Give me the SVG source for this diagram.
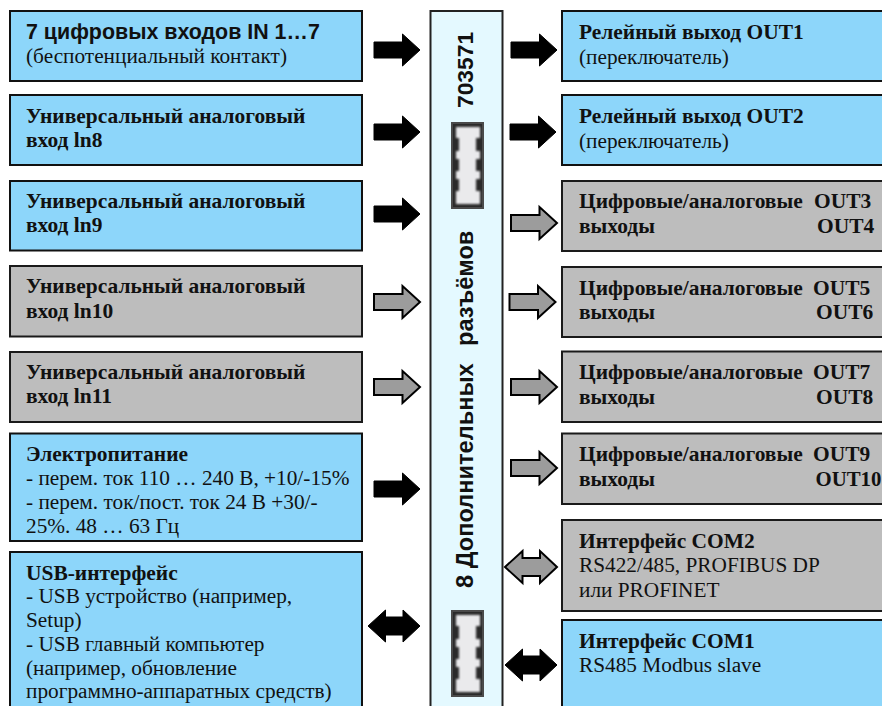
<svg xmlns="http://www.w3.org/2000/svg" width="882" height="706" viewBox="0 0 882 706">
<style>
text{font-family:"Liberation Serif","Times New Roman",serif;font-size:21.300px;fill:#111}
.b{font-weight:700;font-size:21.450px}
.s{font-family:"Liberation Sans",Arial,sans-serif;font-weight:700;font-size:21.400px}
.blue{fill:#8dd6fa;stroke:#111;stroke-width:2}
.gray{fill:#bdbdbd;stroke:#1a1a1a;stroke-width:2}
.ak{fill:#000;stroke:#000;stroke-width:1}
.ag{fill:#9c9c9c;stroke:#000;stroke-width:2}
</style>
<defs>
<path id="ar" d="M0,-8H28.500V-16L46,0L28.500,16V8H0Z"/>
<path id="dar" d="M0,0L17.500,-16V-9H35V-16L52,0L35,16V9H17.500V16Z"/>
<filter id="soft" x="-10%" y="-10%" width="120%" height="120%"><feGaussianBlur stdDeviation="0.9"/></filter>
<g id="conn">
<rect x="0" y="0" width="33" height="87" fill="#4a4a4a"/>
<rect x="2" y="2" width="29" height="83" fill="#2a2a2a"/>
<path d="M5,5H29V16H25V29H29V37H25V49H29V57H25V69H29V82H5V69H8V57H5V49H8V37H5V29H8V16H5Z" fill="#eaeaec" filter="url(#soft)"/>
</g>
</defs>
<rect width="882" height="706" fill="#fff"/>
<g id="connectors">
<use href="#ar" class="ak" x="374" y="50"/>
<use href="#ar" class="ak" x="374" y="132"/>
<use href="#ar" class="ak" x="374" y="214"/>
<use href="#ar" class="ag" x="374" y="302"/>
<use href="#ar" class="ag" x="374" y="387"/>
<use href="#ar" class="ak" x="374" y="489"/>
<use href="#dar" class="ak" x="368" y="626"/>
<use href="#ar" class="ak" x="511" y="50"/>
<use href="#ar" class="ak" x="510" y="132"/>
<use href="#ar" class="ag" x="511" y="223"/>
<use href="#ar" class="ag" x="509.500" y="302"/>
<use href="#ar" class="ag" x="511" y="387"/>
<use href="#ar" class="ag" x="511" y="468"/>
<use href="#dar" class="ag" x="505" y="567"/>
<use href="#dar" class="ak" x="505" y="665"/>
</g>
<g id="main">
<rect x="430.500" y="11" width="72" height="700" fill="#e4f9ff" stroke="#222" stroke-width="2"/>
<text class="s" style="font-size:22.800px" transform="translate(473,108) rotate(-90)">703571</text>
<text class="s" style="font-size:23.600px" transform="translate(473,588) rotate(-90)">8 Дополнительных</text>
<text class="s" style="font-size:23.600px" transform="translate(473,346) rotate(-90)">разъёмов</text>
<use href="#conn" x="451" y="122"/>
<use href="#conn" x="451" y="610"/>
</g>
<g id="in1"><rect class="blue" x="10" y="11" width="352" height="70"/><text class="s" x="26" y="39">7 цифровых входов IN 1…7</text><text x="26" y="63">(беспотенциальный контакт)</text></g>
<g id="in8"><rect class="blue" x="10" y="95" width="352" height="70"/><text class="b" x="26" y="123">Универсальный аналоговый</text><text class="b" x="26" y="147">вход ln8</text></g>
<g id="in9"><rect class="blue" x="10" y="181" width="352" height="69.500"/><text class="b" x="26" y="208">Универсальный аналоговый</text><text class="b" x="26" y="232">вход ln9</text></g>
<g id="in10"><rect class="gray" x="10" y="266" width="352" height="70.500"/><text class="b" x="26" y="293">Универсальный аналоговый</text><text class="b" x="26" y="318">вход ln10</text></g>
<g id="in11"><rect class="gray" x="10" y="352" width="352" height="70"/><text class="b" x="26" y="379">Универсальный аналоговый</text><text class="b" x="26" y="403">вход ln11</text></g>
<g id="power"><rect class="blue" x="10" y="433.500" width="352" height="107.500"/><text class="b" x="26" y="461">Электропитание</text><text x="26" y="485">- перем. ток 110 … 240 В, +10/-15%</text><text x="26" y="509">- перем. ток/пост. ток 24 В +30/-</text><text x="26" y="533">25%. 48 … 63 Гц</text></g>
<g id="usb"><rect class="blue" x="10" y="552" width="352" height="170"/><text class="b" x="26" y="580">USB-интерфейс</text><text x="26" y="603">- USB устройство (например,</text><text x="26" y="627">Setup)</text><text x="26" y="651">- USB главный компьютер</text><text x="26" y="675">(например, обновление</text><text x="26" y="698">программно-аппаратных средств)</text></g>
<g id="out1"><rect class="blue" x="562" y="11" width="340" height="70"/><text class="b" x="579" y="39">Релейный выход OUT1</text><text x="579" y="64">(переключатель)</text></g>
<g id="out2"><rect class="blue" x="562" y="95" width="340" height="70"/><text class="b" x="579" y="123">Релейный выход OUT2</text><text x="579" y="147.500">(переключатель)</text></g>
<g id="out34"><rect class="gray" x="562" y="181" width="340" height="70"/><text class="b" x="579" y="208">Цифровые/аналоговые</text><text class="b" x="814" y="208">OUT3</text><text class="b" x="579" y="233">выходы</text><text class="b" x="817" y="233">OUT4</text></g>
<g id="out56"><rect class="gray" x="562" y="267" width="340" height="70"/><text class="b" x="579" y="295">Цифровые/аналоговые</text><text class="b" x="813" y="295">OUT5</text><text class="b" x="579" y="319">выходы</text><text class="b" x="816" y="319">OUT6</text></g>
<g id="out78"><rect class="gray" x="562" y="351.500" width="340" height="70.500"/><text class="b" x="579" y="379">Цифровые/аналоговые</text><text class="b" x="813" y="379">OUT7</text><text class="b" x="579" y="404">выходы</text><text class="b" x="816" y="404">OUT8</text></g>
<g id="out910"><rect class="gray" x="562" y="433.500" width="340" height="70.500"/><text class="b" x="579" y="461">Цифровые/аналоговые</text><text class="b" x="813" y="461">OUT9</text><text class="b" x="579" y="486">выходы</text><text class="b" x="815.500" y="486" style="font-size:20.800px">OUT10</text></g>
<g id="com2"><rect class="gray" x="562" y="520" width="340" height="91"/><text class="b" x="579" y="548">Интерфейс COM2</text><text x="579" y="572">RS422/485, PROFIBUS DP</text><text x="579" y="597">или PROFINET</text></g>
<g id="com1"><rect class="blue" x="562" y="620" width="340" height="100"/><text class="b" x="579" y="648">Интерфейс COM1</text><text x="579" y="672">RS485 Modbus slave</text></g>
</svg>
